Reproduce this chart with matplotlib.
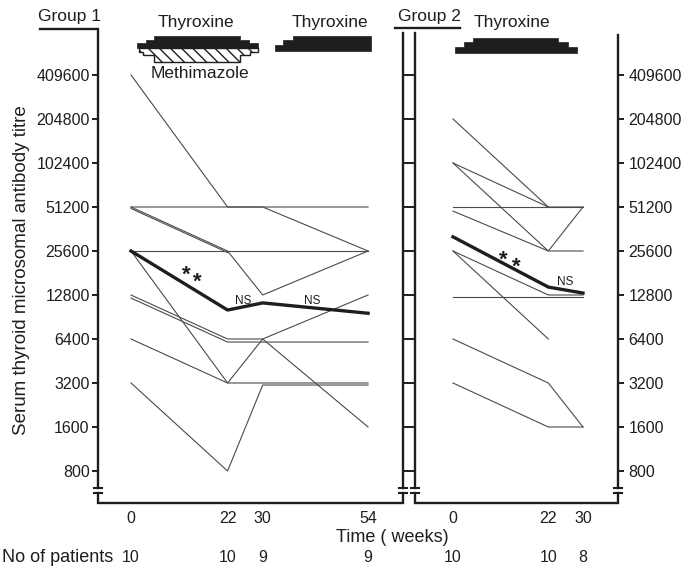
import numpy as np
import matplotlib
matplotlib.use("Agg")
import matplotlib.pyplot as plt
from matplotlib.lines import Line2D
from matplotlib.patches import Polygon
from matplotlib.ticker import NullLocator, FixedFormatter
from matplotlib.transforms import blended_transform_factory

# -----------------------------
# DATA
# -----------------------------
titre_ticks = [800, 1600, 3200, 6400, 12800, 25600, 51200, 102400, 204800, 409600]

weeks_g1 = [0, 22, 30, 54]
g1_patients = [
    [409600, 51200, 51200, 51200],
    [51200, 51200, 51200, 25600],
    [50000, 25000, np.nan, np.nan],
    [51200, 25600, 12800, 25600],
    [25600, 25600, 25600, 25600],
    [25600, 3200, 6400, 1600],
    [12800, 6400, 6400, 12800],
    [12200, 6100, 6100, 6100],
    [6400, 3200, 3200, 3200],
    [3200, 800, 3100, 3100],
]
g1_mean = [25600, 10100, 11300, 9600]
g1_counts = [10, 10, 9, 9]

weeks_g2 = [0, 22, 30]
g2_patients = [
    [204800, 51200, 51200],
    [102400, 51200, np.nan],
    [102400, 25600, 51200],
    [51200, 51200, 51200],
    [48000, 25600, 25600],
    [25600, 12800, 12800],
    [25600, 6400, np.nan],
    [12400, 12400, 12400],
    [6400, 3200, 1600],
    [3200, 1600, 1600],
]
g2_mean = [32000, 14500, 13200]
g2_counts = [10, 10, 8]

INK = "#1e1e1e"
LINE = "#4a4a4a"
FONT = ["Liberation Sans", "DejaVu Sans"]
DIGIT_SIZE = 11.5

W, H = 686, 572

def fx(x):
    return x / W

def fy(y):
    return 1 - y / H

# -----------------------------
# FIGURE / AXES
# -----------------------------
fig = plt.figure(figsize=(W / 100, H / 100), dpi=100)
fig.patch.set_facecolor("white")

ax1 = fig.add_axes([fx(98), fy(503), (403 - 98) / W, (503 - 33) / H])
ax2 = fig.add_axes([fx(415), fy(503), (618 - 415) / W, (503 - 33) / H])

ylo, yhi = 800 * 2 ** (-32 / 44), 800 * 2 ** (438 / 44)
ax1.set_xlim((98 - 131) / 4.39, (403 - 131) / 4.39)
ax2.set_xlim((415 - 453) / 4.333, (618 - 453) / 4.333)

for ax in (ax1, ax2):
    ax.set_yscale("log", base=2)
    ax.set_ylim(ylo, yhi)
    ax.set_yticks(titre_ticks)
    ax.yaxis.set_major_formatter(FixedFormatter([str(v) for v in titre_ticks]))
    ax.yaxis.set_minor_locator(NullLocator())
    ax.patch.set_alpha(0)
    for s in ax.spines.values():
        s.set_visible(False)
    ax.tick_params(axis="y", which="major", direction="out", length=4.5,
                   width=1.4, color=INK, left=True, right=True, labelcolor=INK)
    ax.tick_params(axis="x", length=0, pad=6, labelcolor=INK)

ax1.tick_params(axis="y", labelleft=True, labelright=False, pad=1.5)
ax2.tick_params(axis="y", labelleft=False, labelright=True, pad=3)
ax1.set_xticks(weeks_g1)
ax2.set_xticks(weeks_g2)
for ax in (ax1, ax2):
    for lab in ax.get_yticklabels() + ax.get_xticklabels():
        lab.set_family(FONT)
        lab.set_fontsize(DIGIT_SIZE)

# -----------------------------
# LINES
# -----------------------------
for p in g1_patients:
    ax1.plot(weeks_g1, p, color=LINE, lw=0.8, clip_on=False)
ax1.plot(weeks_g1, g1_mean, color=INK, lw=2.4, clip_on=False)

for p in g2_patients:
    ax2.plot(weeks_g2, p, color=LINE, lw=0.8, clip_on=False)
ax2.plot(weeks_g2, g2_mean, color=INK, lw=2.4, clip_on=False)

# significance marks
for ax, x, y in ((ax1, 12.5, 17400), (ax1, 15.2, 15600), (ax2, 11.5, 22200), (ax2, 14.5, 19900)):
    ax.text(x, y, "*", fontsize=16, fontweight="bold", ha="center", va="center",
            color=INK, family=FONT)
for ax, x, y in ((ax1, 25.5, 11650), (ax1, 41.2, 11650), (ax2, 25.8, 15700)):
    ax.text(x, y, "NS", fontsize=8.5, ha="center", va="center", color=INK, family=FONT)

# -----------------------------
# FRAME WITH BREAKS
# -----------------------------
def frame(xs, ys, lw=1.7):
    fig.add_artist(Line2D([fx(x) for x in xs], [fy(y) for y in ys],
                          transform=fig.transFigure, color=INK, lw=lw,
                          solid_joinstyle="miter"))

def brk(x):
    frame([x - 4, x + 4], [488, 488], lw=1.5)
    frame([x - 4, x + 4], [493, 493], lw=1.5)

frame([40, 98, 98], [29, 29, 488])
frame([98, 98, 403, 403], [493, 503, 503, 493])
frame([403, 403], [488, 33])
brk(98); brk(403)
frame([395, 460], [28, 28])
frame([415, 415], [33, 488])
frame([415, 415, 618, 618], [493, 503, 503, 493])
frame([618, 618], [488, 35])
brk(415); brk(618)

# -----------------------------
# TREATMENT BARS
# -----------------------------
def poly(pts, **kw):
    fig.add_artist(Polygon([(fx(x), fy(y)) for x, y in pts], closed=True,
                           transform=fig.transFigure, **kw))

plt.rcParams["hatch.linewidth"] = 1.0
poly([(139, 48), (258, 48), (258, 52), (250, 52), (250, 55), (240, 55), (240, 62),
      (154, 62), (154, 55), (143, 55), (143, 52), (139, 52)],
     facecolor="white", edgecolor=INK, lw=1.0, hatch="\\\\\\")
poly([(137, 48), (137, 43), (146, 43), (146, 40), (154, 40), (154, 36), (240, 36),
      (240, 40), (249, 40), (249, 43), (258, 43), (258, 48)],
     facecolor=INK, edgecolor=INK, lw=0.5)
poly([(275, 51), (275, 45), (283, 45), (283, 40), (293, 40), (293, 36), (371, 36), (371, 51)],
     facecolor=INK, edgecolor=INK, lw=0.5)
poly([(455, 53), (455, 47), (464, 47), (464, 42), (473, 42), (473, 38), (558, 38),
      (558, 42), (568, 42), (568, 47), (577, 47), (577, 53)],
     facecolor=INK, edgecolor=INK, lw=0.5)

# -----------------------------
# TEXT
# -----------------------------
def label(x, y, s, size=12.5, ha="center", **kw):
    fig.text(fx(x), fy(y), s, fontsize=size, ha=ha, va="center", color=INK, family=FONT, **kw)

label(70, 16, "Group 1")
label(429, 16, "Group 2")
label(196, 22, "Thyroxine")
label(330, 22, "Thyroxine")
label(512, 23, "Thyroxine")
label(200, 74, "Methimazole")
label(392, 537, "Time ( weeks)", size=13)
label(2, 558, "No of patients", size=13, ha="left")
fig.text(fx(22), fy(270), "Serum thyroid microsomal antibody titre", rotation=90,
         fontsize=13.5, ha="center", va="center", color=INK, family=FONT)

for ax, wk, counts in ((ax1, weeks_g1, g1_counts), (ax2, weeks_g2, g2_counts)):
    tr = blended_transform_factory(ax.transData, fig.transFigure)
    for w, c in zip(wk, counts):
        fig.text(w, fy(558), str(c), transform=tr, fontsize=DIGIT_SIZE, ha="center",
                 va="center", color=INK, family=FONT)

fig.savefig("out.png", dpi=100, facecolor="white")
